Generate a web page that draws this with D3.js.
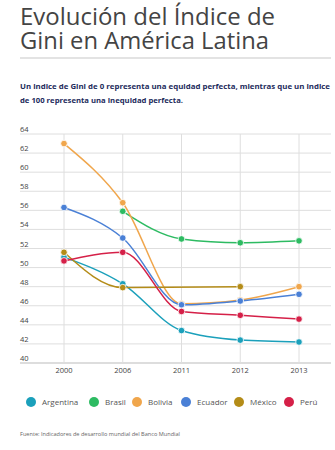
<!DOCTYPE html>
<html><head><meta charset="utf-8">
<script src="https://cdn.jsdelivr.net/npm/d3@7"></script>
<style>body{margin:0;background:#fff;}svg{display:block;}</style>
</head><body>
<script>
const years = ["2000","2006","2011","2012","2013"];
const yTicks = [40,42,44,46,48,50,52,54,56,58,60,62,64];
const countries = ["Argentina","Brasil","Bolivia","Ecuador","México","Perú"];
const colors = ["#1ba0bb","#2dbb62","#f0a64c","#4a80d6","#b48c18","#d52048"];
const argentina = [51.1, 48.3, 43.4, 42.4, 42.2];
const brasil = [null, 55.9, 53.0, 52.6, 52.8];
const bolivia = [63.0, 56.8, 46.2, 46.6, 48.0];
const ecuador = [56.3, 53.1, 46.1, 46.5, 47.2];
const mexico = [51.6, 47.9, null, 48.0, null];
const peru = [50.7, 51.6, 45.4, 45.0, 44.6];
const seriesValues = [argentina, brasil, bolivia, ecuador, mexico, peru];

const W = 335, H = 450;
const svg = d3.select("body").append("svg").attr("width", W).attr("height", H);

svg.append("text").attr("x", 20).attr("y", 25)
  .attr("font-family", "'Open Sans', sans-serif").attr("font-size", 23.5).attr("fill", "#444")
  .attr("textLength", 255).attr("lengthAdjust", "spacingAndGlyphs")
  .text("Evolución del Índice de");
svg.append("text").attr("x", 20).attr("y", 49)
  .attr("font-family", "'Open Sans', sans-serif").attr("font-size", 23.5).attr("fill", "#444")
  .attr("textLength", 249).attr("lengthAdjust", "spacingAndGlyphs")
  .text("Gini en América Latina");
svg.append("rect").attr("x", 20).attr("y", 57).attr("width", 311).attr("height", 2).attr("fill", "#e3e3e3");

const sub = ["Un indice de Gini de 0 representa una equidad perfecta, mientras que un indice",
             "de 100 representa una inequidad perfecta."];
sub.forEach((s, i) => {
  const t = svg.append("text").attr("x", 20).attr("y", 89 + i * 14)
    .attr("font-family", "'Open Sans', sans-serif").attr("font-size", 7.6).attr("font-weight", "bold")
    .attr("fill", "#1d2b5c").text(s);
  if (i === 0) t.attr("textLength", 310).attr("lengthAdjust", "spacingAndGlyphs");
  else t.attr("textLength", 163).attr("lengthAdjust", "spacingAndGlyphs");
});

const x = d3.scalePoint().domain(years).range([64, 299]);
const y = d3.scaleLinear().domain([40, 64]).range([363, 134]);

const g = svg.append("g");
yTicks.forEach(v => {
  g.append("line").attr("x1", 20).attr("x2", 331).attr("y1", y(v)).attr("y2", y(v))
    .attr("stroke", v === 40 ? "#bbb" : "#dedede").attr("stroke-width", 1);
  g.append("text").attr("x", 20).attr("y", y(v) - 2)
    .attr("font-family", "'Open Sans', sans-serif").attr("font-size", 7.5).attr("fill", "#444").text(v);
});
years.forEach(yr => {
  g.append("line").attr("x1", x(yr)).attr("x2", x(yr)).attr("y1", y(64)).attr("y2", y(40))
    .attr("stroke", "#dedede").attr("stroke-width", 1);
  g.append("text").attr("x", x(yr)).attr("y", 373).attr("text-anchor", "middle")
    .attr("font-family", "'Open Sans', sans-serif").attr("font-size", 7.5).attr("fill", "#444").text(yr);
});

const line = d3.line().x(d => x(d.year)).y(d => y(d.v)).curve(d3.curveMonotoneX);
const all = seriesValues.map((vals, i) => ({
  name: countries[i], color: colors[i],
  pts: vals.map((v, j) => ({year: years[j], v})).filter(d => d.v != null)
}));
all.forEach(s => {
  svg.append("path").attr("d", line(s.pts)).attr("fill", "none")
    .attr("stroke", s.color).attr("stroke-width", 1.5);
});
all.forEach(s => {
  svg.selectAll(null).data(s.pts).enter().append("circle")
    .attr("cx", d => x(d.year)).attr("cy", d => y(d.v)).attr("r", 3.3)
    .attr("fill", s.color).attr("stroke", "#fff").attr("stroke-width", 0.8);
});

const legX = [31, 94, 137, 186, 239, 289];
countries.forEach((c, i) => {
  svg.append("circle").attr("cx", legX[i]).attr("cy", 402).attr("r", 5).attr("fill", colors[i]);
  svg.append("text").attr("x", legX[i] + 11).attr("y", 405)
    .attr("font-family", "'Open Sans', sans-serif").attr("font-size", 8).attr("fill", "#555").text(c);
});

svg.append("text").attr("x", 20).attr("y", 436)
  .attr("font-family", "'Open Sans', sans-serif").attr("font-size", 5.6).attr("fill", "#666")
  .text("Fuente: Indicadores de desarrollo mundial del Banco Mundial");
</script>
</body></html>
